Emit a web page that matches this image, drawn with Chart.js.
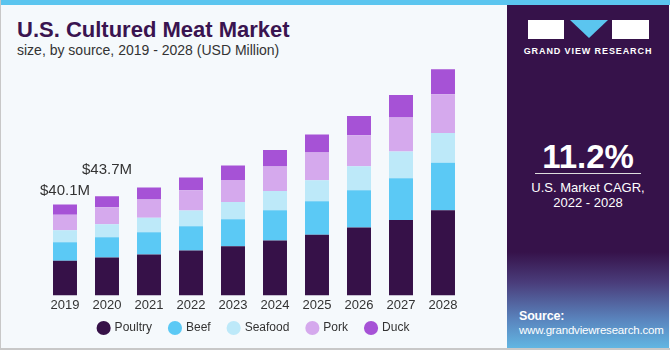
<!DOCTYPE html>
<html>
<head>
<meta charset="utf-8">
<script src="https://cdn.jsdelivr.net/npm/chart.js@4"></script>
<style>
  body { margin: 0; width: 670px; height: 350px; overflow: hidden; font-family: "Liberation Sans", Arial, sans-serif; }
  #wrap { position: relative; width: 670px; height: 350px; overflow: hidden; background: #f5f9fc; box-sizing: border-box; border-left: 1px solid #c8c8c8; border-bottom: 2px solid #c8c8c8; }
  #topbar { position: absolute; left: 0; top: 0; width: 670px; height: 5px; background: #5bc5ef; }
  #title { position: absolute; left: 16px; top: 17px; font-size: 22px; font-weight: bold; color: #3a1450; }
  #sub { position: absolute; left: 16px; top: 42px; font-size: 14px; color: #333; }
  #side { position: absolute; left: 506px; top: 5px; width: 162px; height: 343px;
    background: linear-gradient(to bottom, #36124a 0%, #36124a 72%, #4a3d7b 81%, #5a86bf 92%, #62b6e2 100%); }
  #chartBox { position: absolute; left: 0; top: 0; width: 506px; height: 355px; }
  .logo { position: absolute; }
  #gvr { position: absolute; left: 0; width: 162px; top: 41px; text-align: center; color: #fff; font-size: 9px; font-weight: bold; letter-spacing: 0.9px; }
  #cagr { position: absolute; left: 0; width: 162px; top: 133px; text-align: center; color: #fff; font-size: 33px; font-weight: bold; }
  #line { position: absolute; left: 28px; width: 106px; top: 168px; height: 1px; background: #ddd; }
  #cagrTxt { position: absolute; left: 0; width: 162px; top: 175px; text-align: center; color: #fff; font-size: 13px; line-height: 15px; }
  #src { position: absolute; left: 12px; top: 304px; color: #fff; font-size: 11.5px; line-height: 14px; letter-spacing: -0.2px; }
</style>
</head>
<body>
<div id="wrap">
  <div id="topbar"></div>
  <div id="title">U.S. Cultured Meat Market</div>
  <div id="sub">size, by source, 2019 - 2028 (USD Million)</div>
  <div id="chartBox"><canvas id="chart"></canvas></div>
  <div id="side">
    <div class="logo" style="left:21px;top:15px;width:36px;height:19px;background:#fff;"></div>
    <div class="logo" style="left:63px;top:15px;width:0;height:0;border-left:19px solid transparent;border-right:19px solid transparent;border-top:18px solid #5bc5ef;"></div>
    <div class="logo" style="left:105px;top:15px;width:37px;height:19px;background:#fff;"></div>
    <div id="gvr">GRAND VIEW RESEARCH</div>
    <div id="cagr">11.2%</div>
    <div id="line"></div>
    <div id="cagrTxt">U.S. Market CAGR,<br>2022 - 2028</div>
    <div id="src"><b style="font-size:12.5px">Source:</b><br>www.grandviewresearch.com</div>
  </div>
</div>
<script>
const years = ["2019", "2020", "2021", "2022", "2023", "2024", "2025", "2026", "2027", "2028"];
const poultry = [15.3, 16.7, 18.0, 19.8, 21.7, 24.2, 26.8, 29.9, 33.3, 37.6];
const beef = [8.1, 9.0, 9.9, 10.7, 11.9, 13.4, 14.7, 16.5, 18.4, 20.9];
const seafood = [5.3, 5.7, 6.3, 6.9, 7.6, 8.4, 9.3, 10.6, 11.8, 13.1];
const pork = [6.9, 7.5, 8.1, 9.0, 9.7, 10.9, 12.2, 13.6, 15.0, 17.1];
const duck = [4.5, 4.8, 5.3, 5.6, 6.4, 7.2, 8.0, 8.5, 9.9, 11.0];
const totalLabels = ["$40.1M", "$43.7M"];

// labels above the first two bars
const totalsPlugin = {
    id: "totals",
    afterDatasetsDraw(chart) {
        const ctx = chart.ctx;
        const top = chart.getDatasetMeta(chart.data.datasets.length - 1);
        ctx.save();
        ctx.font = "15px 'Liberation Sans', Arial, sans-serif";
        ctx.fillStyle = "#333";
        ctx.textAlign = "center";
        ctx.textBaseline = "middle";
        const gaps = [14, 26];
        totalLabels.forEach((txt, i) => {
            const el = top.data[i];
            ctx.fillText(txt, el.x, el.y - gaps[i]);
        });
        ctx.restore();
    }
};

// pull the legend up a little, closer to the year labels
const legendShift = {
    id: "legendShift",
    afterLayout(chart) {
        if (!chart.legend) return;
        chart.legend.top -= 11;
        chart.legend.bottom -= 11;
    }
};

const ctx = document.getElementById("chart").getContext("2d");
new Chart(ctx, {
    type: "bar",
    data: {
        labels: years,
        datasets: [
            { label: "Poultry", data: poultry, backgroundColor: "#361148" },
            { label: "Beef", data: beef, backgroundColor: "#5bc9f5" },
            { label: "Seafood", data: seafood, backgroundColor: "#bde9f9" },
            { label: "Pork", data: pork, backgroundColor: "#d5a9ed" },
            { label: "Duck", data: duck, backgroundColor: "#a652d6" }
        ]
    },
    options: {
        responsive: true,
        maintainAspectRatio: false,
        animation: false,
        layout: { padding: { left: 43, right: 43, top: 46, bottom: 0 } },
        datasets: { bar: { categoryPercentage: 1, barPercentage: 0.571, borderWidth: 0 } },
        scales: {
            x: {
                stacked: true,
                grid: { display: false, drawTicks: false },
                border: { display: false },
                ticks: { color: "#333", padding: 2, font: { size: 13, family: "'Liberation Sans', Arial, sans-serif" } }
            },
            y: { stacked: true, display: false, min: 0, max: 110 }
        },
        plugins: {
            legend: {
                position: "bottom",
                labels: {
                    usePointStyle: true,
                    pointStyle: "circle",
                    boxWidth: 10,
                    boxHeight: 10,
                    padding: 18,
                    color: "#333",
                    font: { size: 12, family: "'Liberation Sans', Arial, sans-serif" }
                }
            },
            tooltip: { enabled: false }
        }
    },
    plugins: [totalsPlugin, legendShift]
});
</script>
</body>
</html>
